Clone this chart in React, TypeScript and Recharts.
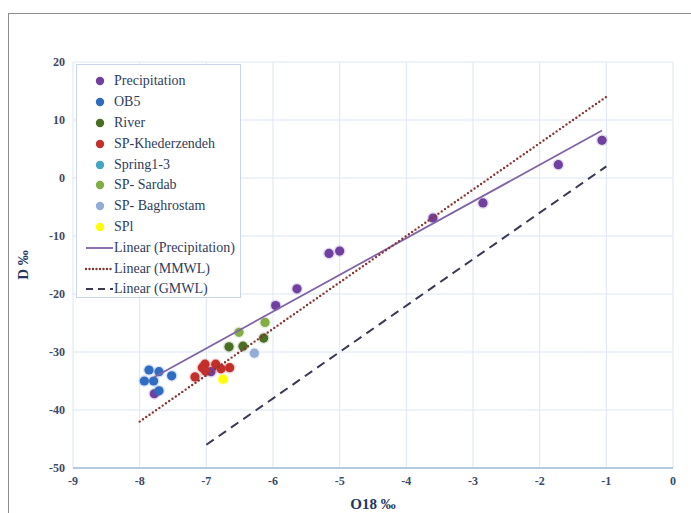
import { ScatterChart, Scatter, XAxis, YAxis, CartesianGrid, Legend } from 'recharts';

type Pt = { x: number; y: number };

// isotope samples (O18 ‰, D ‰)
const precipitation: Pt[] = [
  { x: -1.065, y: 6.5 },
  { x: -1.72, y: 2.3 },
  { x: -2.85, y: -4.3 },
  { x: -3.6, y: -6.9 },
  { x: -5.0, y: -12.6 },
  { x: -5.16, y: -13.0 },
  { x: -5.64, y: -19.1 },
  { x: -5.96, y: -22.0 },
  { x: -6.93, y: -33.4 },
  { x: -7.78, y: -37.2 },
];
const ob5: Pt[] = [
  { x: -7.86, y: -33.1 },
  { x: -7.71, y: -33.4 },
  { x: -7.52, y: -34.1 },
  { x: -7.93, y: -35.0 },
  { x: -7.79, y: -35.0 },
  { x: -7.71, y: -36.7 },
];
const river: Pt[] = [
  { x: -6.14, y: -27.6 },
  { x: -6.45, y: -29.0 },
  { x: -6.66, y: -29.1 },
];
const khederzendeh: Pt[] = [
  { x: -7.17, y: -34.3 },
  { x: -7.06, y: -32.7 },
  { x: -7.02, y: -32.1 },
  { x: -7.01, y: -33.3 },
  { x: -6.86, y: -32.1 },
  { x: -6.78, y: -32.9 },
  { x: -6.65, y: -32.7 },
];
const spring13: Pt[] = [];
const sardab: Pt[] = [
  { x: -6.12, y: -24.9 },
  { x: -6.51, y: -26.6 },
];
const baghrostam: Pt[] = [{ x: -6.28, y: -30.2 }];
const spl: Pt[] = [{ x: -6.75, y: -34.7 }];

// fitted / reference lines (end points)
const precipTrend: Pt[] = [
  { x: -7.78, y: -34.3 },
  { x: -1.065, y: 8.2 },
];
const mmwl: Pt[] = [
  { x: -8, y: -42 },
  { x: -1, y: 14 },
];
const gmwl: Pt[] = [
  { x: -7, y: -46 },
  { x: -1, y: 2 },
];

const xTicks = [-9, -8, -7, -6, -5, -4, -3, -2, -1, 0];
const yTicks = [-50, -40, -30, -20, -10, 0, 10, 20];

const pointSeries = [
  { name: 'Precipitation', data: precipitation, color: '#7040a0' },
  { name: 'OB5', data: ob5, color: '#2f6cc0' },
  { name: 'River', data: river, color: '#4a6e22' },
  { name: 'SP-Khederzendeh', data: khederzendeh, color: '#c3302c' },
  { name: 'Spring1-3', data: spring13, color: '#3fa6c4' },
  { name: 'SP- Sardab', data: sardab, color: '#82ac44' },
  { name: 'SP- Baghrostam', data: baghrostam, color: '#92acd6' },
  { name: 'SPl', data: spl, color: '#ffff00' },
];

const lineSeries = [
  { name: 'Linear (Precipitation)', data: precipTrend, color: '#7f64a8', dash: undefined, width: 1.8, cap: 'butt' },
  { name: 'Linear (MMWL)', data: mmwl, color: '#8a3434', dash: '0 4', width: 2.4, cap: 'round' },
  { name: 'Linear (GMWL)', data: gmwl, color: '#3a3a55', dash: '9 6', width: 2, cap: 'butt' },
];

const FONT = '"Liberation Serif", "Times New Roman", serif';
const TICK_COLOR = '#3b4a68';

const Dot = (props: any) => {
  const { cx, cy, fill } = props;
  if (cx == null || cy == null) return <g />;
  return (
    <g>
      <circle cx={cx} cy={cy} r={6} fill={fill} opacity={0.18} />
      <circle cx={cx} cy={cy} r={4.6} fill={fill} />
    </g>
  );
};

const LegendBox = () => (
  <div
    style={{
      width: 165,
      height: 234,
      border: '1px solid #cbd7e8',
      background: '#fff',
      fontFamily: FONT,
      fontSize: 14,
      color: '#2f3d5c',
      paddingTop: 6,
      boxSizing: 'border-box',
    }}
  >
    {pointSeries.map((s) => (
      <div key={s.name} style={{ display: 'flex', alignItems: 'center', height: 20.8 }}>
        <svg width={37} height={12} style={{ flex: 'none' }}>
          <circle cx={23} cy={6} r={4.2} fill={s.color} />
        </svg>
        <span style={{ whiteSpace: 'nowrap' }}>{s.name}</span>
      </div>
    ))}
    {lineSeries.map((s) => (
      <div key={s.name} style={{ display: 'flex', alignItems: 'center', height: 20.8 }}>
        <svg width={37} height={12} style={{ flex: 'none' }}>
          <line
            x1={9}
            y1={6}
            x2={36}
            y2={6}
            stroke={s.color}
            strokeWidth={s.width}
            strokeDasharray={s.dash ? (s.dash === '0 4' ? '0 3.5' : '7 5') : undefined}
            strokeLinecap={s.cap as any}
          />
        </svg>
        <span style={{ whiteSpace: 'nowrap' }}>{s.name}</span>
      </div>
    ))}
  </div>
);

export default function App() {
  return (
    <div style={{ position: 'absolute', left: 0, top: 0, width: 691, height: 513, overflow: 'hidden', background: '#fff' }}>
      <div
        style={{
          position: 'absolute',
          left: 8,
          top: 13,
          width: 720,
          height: 540,
          border: '1px solid #8c8c8c',
        }}
      />
      <div style={{ position: 'absolute', left: 0, top: 0 }}>
        <ScatterChart width={691} height={513} margin={{ top: 62, right: 18, left: 33, bottom: 0 }}>
          <CartesianGrid stroke="#dde7f3" strokeWidth={1} />
          <XAxis
            type="number"
            dataKey="x"
            domain={[-9, 0]}
            ticks={xTicks}
            allowDataOverflow
            height={45}
            axisLine={{ stroke: '#b6c9e3', strokeWidth: 2 }}
            tickLine={false}
            tick={{ fill: TICK_COLOR, fontSize: 12, fontWeight: 'bold', fontFamily: FONT }}
            label={{
              value: 'O18 ‰',
              position: 'insideBottom',
              offset: 4,
              style: { fill: '#22365e', fontSize: 15, fontWeight: 'bold', fontFamily: FONT },
            }}
          />
          <YAxis
            type="number"
            dataKey="y"
            domain={[-50, 20]}
            ticks={yTicks}
            allowDataOverflow
            width={40}
            axisLine={false}
            tickLine={false}
            tick={{ fill: TICK_COLOR, fontSize: 12, fontWeight: 'bold', fontFamily: FONT }}
            label={{
              content: ({ viewBox }: any) => (
                <text
                  x={0}
                  y={0}
                  transform={`translate(23, ${viewBox.y + viewBox.height / 2}) rotate(-90)`}
                  textAnchor="middle"
                  dominantBaseline="central"
                  fill="#22365e"
                  fontSize={15}
                  fontWeight="bold"
                  fontFamily={FONT}
                >
                  D ‰
                </text>
              ),
            }}
          />
          <Legend
            layout="horizontal"
            verticalAlign="middle"
            align="center"
            wrapperStyle={{ left: 76, top: 64, width: 'auto', height: 'auto' }}
            content={() => <LegendBox />}
          />
          {pointSeries.map((s) => (
            <Scatter
              key={s.name}
              name={s.name}
              data={s.data}
              fill={s.color}
              shape={Dot}
              isAnimationActive={false}
            />
          ))}
          {lineSeries.map((s) => (
            <Scatter
              key={s.name}
              name={s.name}
              data={s.data}
              fill="none"
              line={{ stroke: s.color, strokeWidth: s.width, strokeDasharray: s.dash, strokeLinecap: s.cap as any }}
              shape={() => <g />}
              legendType="none"
              isAnimationActive={false}
            />
          ))}
        </ScatterChart>
      </div>
    </div>
  );
}
